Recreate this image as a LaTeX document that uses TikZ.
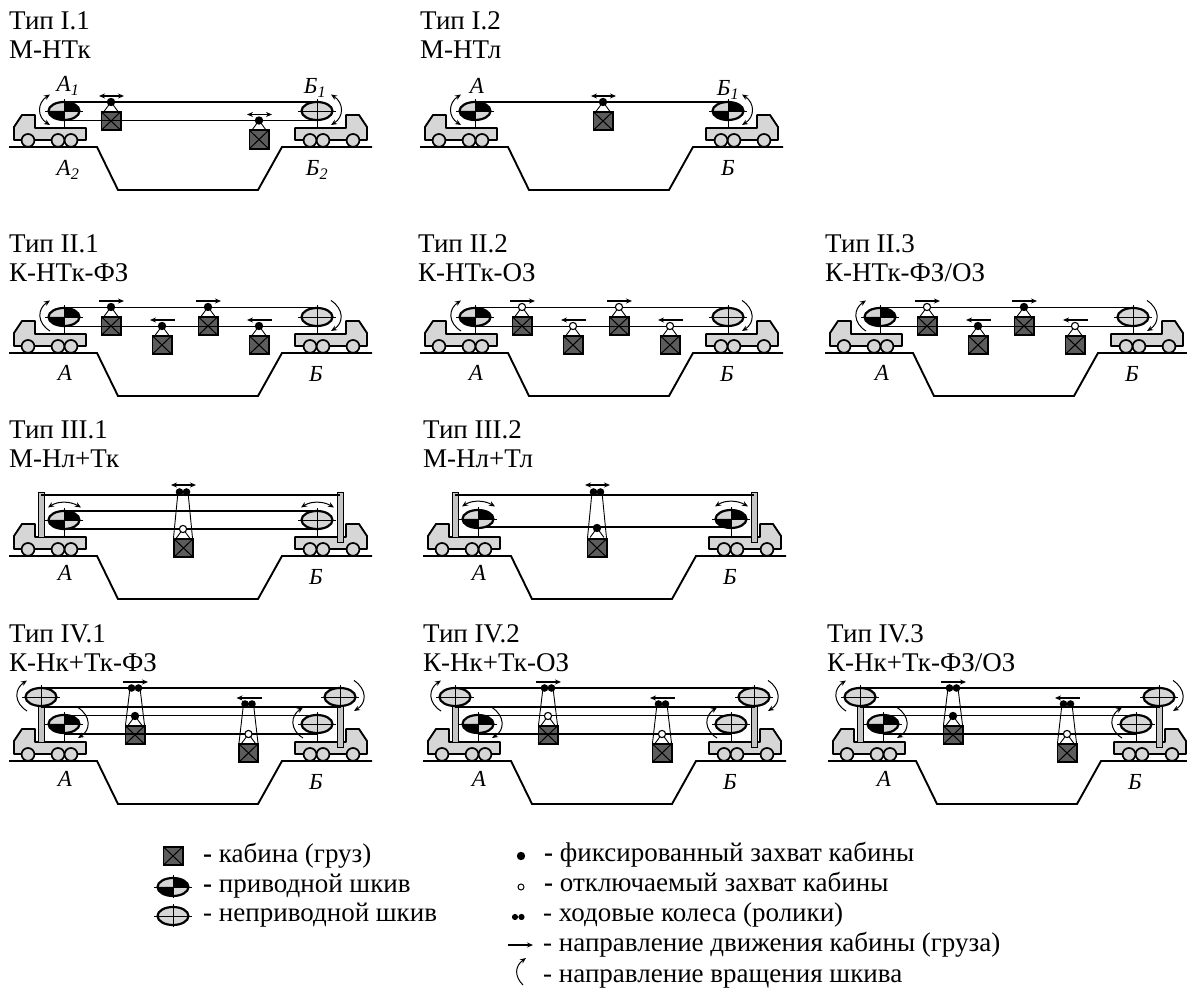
\documentclass[tikz,border=0pt]{standalone}
\usepackage{fontspec}
\setmainfont{Liberation Serif}
\usetikzlibrary{arrows.meta}
\definecolor{shell}{gray}{.84}
\definecolor{load}{gray}{.36}
\tikzset{
rope/.style={line width=1.9pt},
heavy/.style={line width=2.9pt},
stay/.style={line width=.9pt},
spinline/.style={line width=1pt},
move/.style={line width=1.1pt},
post/.style={draw,line width=.8pt,fill=shell!92!black},
title/.style={anchor=base west,inner sep=0pt,align=left,font=\fontsize{27}{29.5}\selectfont},
item/.style={anchor=base west,inner sep=0pt,font=\fontsize{27}{29.5}\selectfont},
site/.style={inner sep=0pt,font=\fontsize{23}{25}\selectfont\itshape},
truck/.pic={
\draw[line width=1pt] (55,19)--(55,36);
\draw[line width=1.9pt,fill=shell,line join=round] (5,7)--(5,20)--(13,32)--(26,32)--(26,19)--(77,19)--(77,7)--cycle;
\foreach \x in {19,49,62} {\draw[line width=1.7pt,fill=shell] (\x,6.6) circle (6.4);}
},
base/.pic={
\draw[line width=1.9pt] (0,0)--(88,0)--(109,-43)--(249,-43)--(273,0)--(363,0);
\pic at (0,0) {truck};
\pic[xscale=-1] at (363,0) {truck};
},
idle/.pic={
\draw[line width=2.2pt,fill=shell] (0,0) ellipse (15.5 and 9);
\draw[line width=.9pt] (-19,0)--(19,0) (0,-11.5)--(0,11.5);
},
drive/.pic={
\draw[fill=shell,draw=none] (0,0) ellipse (15.5 and 9);
\fill (0,0)--(15.5,0) arc[start angle=0,end angle=90,x radius=15.5,y radius=9]--cycle;
\fill (0,0)--(-15.5,0) arc[start angle=180,end angle=270,x radius=15.5,y radius=9]--cycle;
\draw[line width=2.2pt] (0,0) ellipse (15.5 and 9);
\draw[line width=.9pt] (-19,0)--(19,0) (0,-11.5)--(0,11.5);
},
cabin/.pic={
\draw[line width=1.8pt,fill=load] (-9.6,-9.2) rectangle (9.6,9.2);
\draw[line width=1pt] (-9.6,-9.2)--(9.6,9.2) (-9.6,9.2)--(9.6,-9.2);
},
pics/grip/.style={code={
\draw[stay] (-7,-9.5)--(0,0)--(7,-9.5);
\draw[line width=1.1pt,fill=#1] (0,0) circle (3.6);
}},
pics/course/.style={code={\draw[move,#1] (-12,6)--(13,6);}},
pics/spin/.style={code={\draw[spinline,#1] (14,16.5) .. controls (27,8) and (27,-6) .. (14,-14);}},
spintop/.pic={\draw[spinline,<->] (-16,12.5) .. controls (-6,19) and (6,19) .. (17,12.5);},
}
% loop line with four cabins, origin and grip colours
\newcommand{\ringpanel}[5]{
\begin{scope}[shift={(#1)}]
\pic {base};
\foreach \x/\y in {102/46,153/27,199/46,250/27} {\pic at (\x,\y-19) {cabin};}
\draw[rope] (55,45.5)--(308,45.5) (55,26.5)--(308,26.5);
\pic at (55,36) {drive};
\pic at (308,36) {idle};
\pic[xscale=-1] at (55,36) {spin=<-};
\pic at (308,36) {spin=->};
\foreach \x/\y/\c/\t in {102/46/#2/->,153/27/#3/<-,199/46/#4/->,250/27/#5/<-} {
\pic at (\x,\y) {grip=\c};
\pic at (\x,\y) {course=\t};
}
\end{scope}}
% two rollers and the frame down to the cabin roof
\newcommand{\hanger}[3]{
\draw[stay] (#1-5,#2)--(#1-9.5,#3) (#1+5,#2)--(#1+9.5,#3);
\fill (#1-3.5,#2) circle (3.8) (#1+3.5,#2) circle (3.8);
}
% carrying rope on masts, origin, cabin x and grip colours
\newcommand{\stayedpanel}[6]{
\begin{scope}[shift={(#1)}]
\pic {base};
\draw[post] (29,19) rectangle (35,64) (328,14) rectangle (334,64);
\pic at (#3,26) {cabin};
\pic at (#5,8) {cabin};
\draw[rope] (55,45.5)--(308,45.5) (55,27)--(308,27) (32,73)--(331,73) (32,54)--(331,54);
\pic at (32,64) {idle};
\pic at (331,64) {idle};
\pic at (55,37) {#2};
\pic at (308,37) {idle};
\pic[xscale=-1] at (32,64) {spin=<-};
\pic at (331,64) {spin=->};
\pic at (55,37) {spin=->};
\pic[xscale=-1] at (308,37) {spin=<-};
\hanger{#3}{73}{36}
\hanger{#5}{57}{18}
\pic at (#3,45) {grip=#4};
\pic at (#5,27) {grip=#6};
\pic at (#3,73) {course=->};
\pic at (#5,57) {course=<-};
\end{scope}}
\begin{document}
\begin{tikzpicture}[x=1pt,y=1pt,>={Stealth[length=6pt,width=5pt]}]
\useasboundingbox (0,0) rectangle (1187,988);
% row I
\node[title] (t11) at (9,929) {Тип I.1\\М-НТк};
\node[title] (t12) at (420,929) {Тип I.2\\М-НТл};
\begin{scope}[shift={(9,841)}]
\pic {base};
\foreach \x/\y in {102/45,250/26.5} {\pic at (\x,\y-19) {cabin};}
\draw[rope] (55,45)--(308,45) (55,26.5)--(308,26.5);
\pic at (55,36) {drive};
\pic at (308,36) {idle};
\pic[xscale=-1] at (55,36) {spin=<->};
\pic at (308,36) {spin=<->};
\foreach \x/\y in {102/45,250/26.5} {\pic at (\x,\y) {grip=black}; \pic at (\x,\y) {course=<->};}
\node[site] (a1) at (59,61) {А\textsubscript{1}};
\node[site] (a2) at (59,-23) {А\textsubscript{2}};
\node[site] (b1) at (306,59) {Б\textsubscript{1}};
\node[site] (b2) at (308,-23) {Б\textsubscript{2}};
\end{scope}
\begin{scope}[shift={(420,841)}]
\pic {base};
\pic at (183,26) {cabin};
\draw[heavy] (55,45)--(308,45);
\pic at (55,36) {drive};
\pic at (308,36) {drive};
\pic[xscale=-1] at (55,36) {spin=<->};
\pic at (308,36) {spin=<->};
\pic at (183,45) {grip=black};
\pic at (183,45) {course=<->};
\node[site] (a3) at (57,61) {А};
\node[site] (b3) at (308,57) {Б\textsubscript{1}};
\node[site] (b4) at (308,-21) {Б};
\end{scope}
% row II
\node[title] (t21) at (9,706) {Тип II.1\\К-НТк-ФЗ};
\node[title] (t22) at (418,706) {Тип II.2\\К-НТк-ОЗ};
\node[title] (t23) at (825,706) {Тип II.3\\К-НТк-ФЗ/ОЗ};
\ringpanel{9,635}{black}{black}{black}{black}
\ringpanel{420,635}{white}{white}{white}{white}
\ringpanel{825,635}{white}{black}{black}{white}
\foreach \n/\x in {5/65,6/476,7/882} {\node[site] (a\n) at (\x,615) {А};}
\foreach \n/\x in {5/316,6/727,7/1132} {\node[site] (b\n) at (\x,614) {Б};}
% row III
\node[title] (t31) at (9,520) {Тип III.1\\М-Нл+Тк};
\node[title] (t32) at (423,520) {Тип III.2\\М-Нл+Тл};
\begin{scope}[shift={(9,432)}]
\pic {base};
\draw[post] (29,19) rectangle (35,64) (328,14) rectangle (334,64);
\pic at (174.5,8) {cabin};
\draw[rope] (55,45)--(308,45) (55,27)--(308,27);
\draw[heavy] (32,61)--(331,61);
\pic at (55,36) {drive};
\pic at (308,36) {idle};
\pic at (55,36) {spintop};
\pic at (308,36) {spintop};
\hanger{174}{64}{18}
\pic at (174,27) {grip=white};
\pic at (174,65) {course=<->};
\node[site] (a8) at (56,-17) {А};
\node[site] (b8) at (307,-21) {Б};
\end{scope}
\begin{scope}[shift={(423,432)}]
\pic {base};
\draw[post] (29,19) rectangle (35,64) (328,14) rectangle (334,64);
\pic at (174,8) {cabin};
\draw[heavy] (55,29)--(308,29) (32,61)--(331,61);
\pic at (55,37) {drive};
\pic at (308,37) {drive};
\pic at (55,37) {spintop};
\pic at (308,37) {spintop};
\hanger{174}{64}{18}
\pic at (174,28) {grip=black};
\pic at (174,65) {course=<->};
\node[site] (a9) at (56,-17) {А};
\node[site] (b9) at (307,-21) {Б};
\end{scope}
% row IV
\node[title] (t41) at (9,316) {Тип IV.1\\К-Нк+Тк-ФЗ};
\node[title] (t42) at (423,316) {Тип IV.2\\К-Нк+Тк-ОЗ};
\node[title] (t43) at (827,316) {Тип IV.3\\К-Нк+Тк-ФЗ/ОЗ};
\stayedpanel{9,227}{drive}{126}{black}{239.5}{white}
\stayedpanel{423,227}{drive}{125}{white}{239}{white}
\stayedpanel{828,227}{drive}{125}{black}{239}{white}
\foreach \n/\x in {10/65,11/479,12/884} {\node[site] (a\n) at (\x,209) {А};}
\foreach \n/\x in {10/316,11/730,12/1135} {\node[site] (b\n) at (\x,206) {Б};}
% legend
\pic at (173,132) {cabin};
\pic at (173,101) {drive};
\pic at (173,72) {idle};
\fill (521,132) circle (4.2);
\draw[line width=1pt,fill=white] (521,101) circle (3);
\fill (515,71) circle (3.1) (521.5,71) circle (3.1);
\draw[move,->] (508,43)--(533,43);
\draw[spinline,->] (523,3) .. controls (514,12) and (515,22) .. (526,30);
\node[item] (k1) at (203,125) {\textbf{-} кабина (груз)};
\node[item] (k2) at (203,95) {\textbf{-} приводной шкив};
\node[item] (k3) at (203,66) {- неприводной шкив};
\node[item] (k4) at (544,126) {\textbf{-} фиксированный захват кабины};
\node[item] (k5) at (544,96) {\textbf{-} отключаемый захват кабины};
\node[item] (k6) at (543,66) {- ходовые колеса (ролики)};
\node[item] (k7) at (543,36) {- направление движения кабины (груза)};
\node[item] (k8) at (543,5) {- направление вращения шкива};
\end{tikzpicture}
\end{document}
